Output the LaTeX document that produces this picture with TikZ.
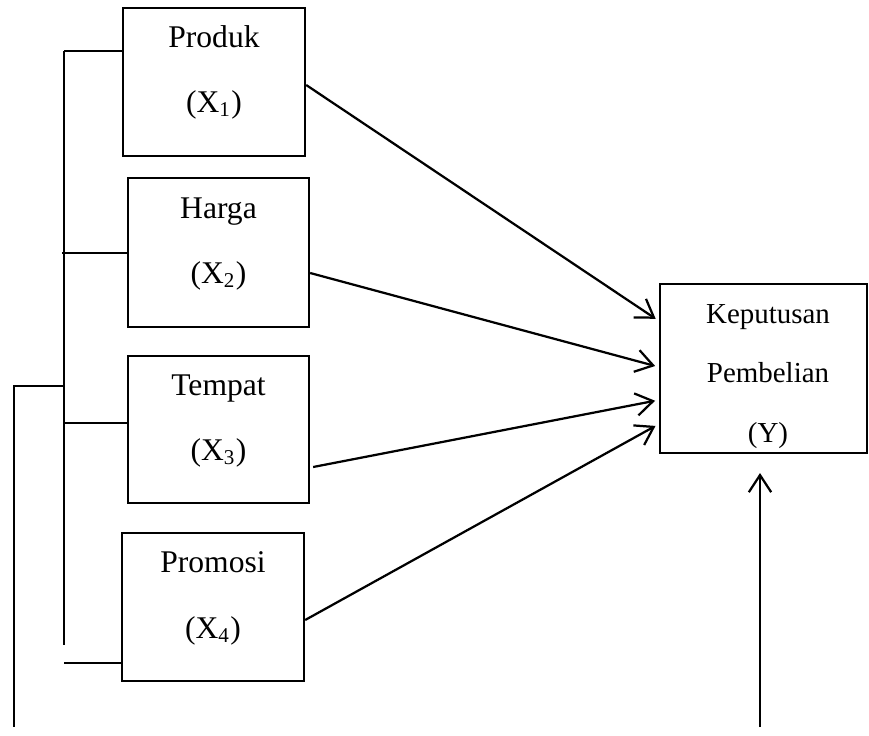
\documentclass[tikz,border=0pt]{standalone}
\usepackage{fontspec}
\setmainfont{Liberation Serif}
\usetikzlibrary{arrows.meta}
\usetikzlibrary{calc}
\tikzset{>={Straight Barb[length=6.5pt,width=8.5pt]}}

\begin{document}
\begin{tikzpicture}[x=0.38pt, y=-0.38pt, line width=0.85pt,
    box/.style={draw, rectangle, inner sep=0pt},
    lbl/.style={anchor=base, inner sep=0pt, font=\fontsize{12}{14}\selectfont},
    lbly/.style={anchor=base, inner sep=0pt, font=\fontsize{11}{13}\selectfont}]
      \useasboundingbox (0,0) rectangle (869,735);
      % variabel bebas
      \node[box, minimum width=69.2pt, minimum height=56.2pt] (p1) at (214,82) {};
      \node[lbl] (p1a) at (214,48) {Produk};
      \node[lbl] (p1b) at (214,112) {(X\textsubscript{1})};
      \node[box, minimum width=68.8pt, minimum height=56.6pt] (p2) at (218.5,252.5) {};
      \node[lbl] (p2a) at (218.5,218) {Harga};
      \node[lbl] (p2b) at (218.5,283) {(X\textsubscript{2})};
      \node[box, minimum width=68.8pt, minimum height=55.9pt] (p3) at (218.5,429.5) {};
      \node[lbl] (p3a) at (218.5,395) {Tempat};
      \node[lbl] (p3b) at (218.5,460) {(X\textsubscript{3})};
      \node[box, minimum width=69.2pt, minimum height=56.2pt] (p4) at (213,607) {};
      \node[lbl] (p4a) at (213,572) {Promosi};
      \node[lbl] (p4b) at (213,638) {(X\textsubscript{4})};
      % variabel terikat
      \node[box, minimum width=78.6pt, minimum height=64.2pt] (y) at (763.5,368.5) {};
      \node[lbly] (ya) at (768,323) {Keputusan};
      \node[lbly] (yb) at (768,382) {Pembelian};
      \node[lbly] (yc) at (768,442) {(Y)};
      % panah ke Y
      \draw[->, shorten >=1.5pt] ($(p1.east)+(0,3)$) -- ($(y.west)+(0,-47.5)$);
      \draw[->, shorten >=1.5pt] ($(p2.east)+(0,20.5)$) -- ($(y.west)+(0,-1.5)$);
      \draw[->, shorten >=1.5pt] ($(p3.east)+(3,37.5)$) -- ($(y.west)+(0,31.5)$);
      \draw[->, shorten >=1.5pt] ($(p4.east)+(0,13)$) -- ($(y.west)+(0,55.5)$);
      % garis simultan
      \coordinate (bt) at (64,51);
      \coordinate (bb) at (64,645);
      \coordinate (b2) at (62,253);
      \coordinate (b3) at (64,423);
      \coordinate (b4) at (64,663);
      \coordinate (bl) at (64,386);
      \coordinate (lend) at (14,727);
      \draw (bt) -- (bb);
      \draw (bt) -- (bt -| p1.west);
      \draw (b2) -- (b2 -| p2.west);
      \draw (b3) -- (b3 -| p3.west);
      \draw (b4) -- (b4 -| p4.west);
      \draw (bl) -| (lend);
      \coordinate (yin) at (760,727);
      \draw[->, shorten >=7.2pt] (yin) -- (yin |- y.south);
    \end{tikzpicture}
\end{document}
